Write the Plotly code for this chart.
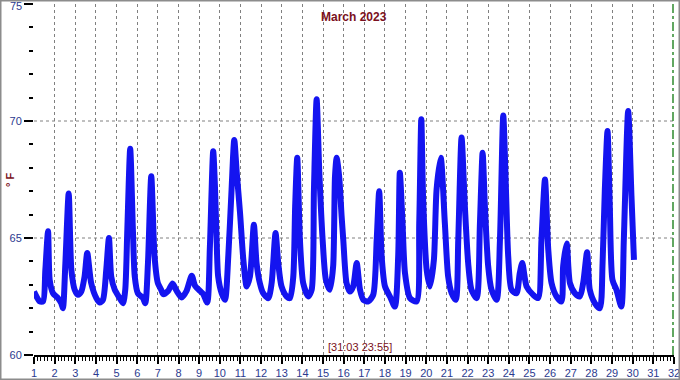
import plotly.graph_objects as go

# Time in days (1.0 = 1 March 00:00) and indoor temperature (°F)
days = [
    1.00, 1.28, 1.44, 1.55, 1.68, 1.76, 1.92, 2.16, 2.32, 2.40, 2.52, 2.68, 2.81, 2.97,
    3.13, 3.29, 3.45, 3.58, 3.77, 4.02, 4.18, 4.34, 4.50, 4.63, 4.74, 4.91, 5.15, 5.31,
    5.42, 5.52, 5.66, 5.79, 5.88, 6.03, 6.28, 6.39, 6.52, 6.68, 6.84, 7.00, 7.16, 7.26,
    7.50, 7.71, 7.91, 8.15, 8.39, 8.64, 8.80, 9.04, 9.20, 9.39, 9.52, 9.68, 9.77, 9.85,
    9.92, 10.09, 10.25, 10.41, 10.57, 10.70, 10.82, 10.98, 11.14, 11.30, 11.46, 11.65,
    11.78, 11.94, 12.10, 12.35, 12.51, 12.70, 12.83, 12.99, 13.24, 13.40, 13.56, 13.65,
    13.75, 13.88, 14.04, 14.28, 14.45, 14.56, 14.69, 14.82, 14.98, 15.14, 15.33, 15.49,
    15.58, 15.66, 15.78, 15.90, 15.98, 16.14, 16.30, 16.46, 16.63, 16.79, 16.95, 17.19,
    17.43, 17.60, 17.72, 17.84, 18.00, 18.24, 18.48, 18.64, 18.72, 18.85, 18.97, 19.21,
    19.53, 19.66, 19.76, 19.85, 20.02, 20.18, 20.37, 20.50, 20.70, 20.90, 21.06, 21.23,
    21.43, 21.55, 21.71, 21.87, 22.03, 22.19, 22.44, 22.60, 22.73, 22.84, 23.00, 23.16,
    23.41, 23.57, 23.73, 23.86, 23.97, 24.13, 24.37, 24.53, 24.65, 24.86, 25.18, 25.42,
    25.58, 25.75, 25.91, 26.07, 26.31, 26.55, 26.63, 26.80, 26.96, 27.20, 27.44, 27.60,
    27.79, 27.92, 28.17, 28.41, 28.54, 28.65, 28.78, 28.89, 29.02, 29.21, 29.45, 29.57,
    29.78, 29.94, 30.06,
]
temps = [
    62.71, 62.29, 62.29, 63.64, 65.29, 63.21, 62.64, 62.43, 62.21, 62.00, 63.93, 66.90, 63.64, 62.79,
    62.57, 62.71, 63.36, 64.36, 63.07, 62.43, 62.24, 62.36, 63.64, 65.00, 63.36, 62.79, 62.43, 62.21,
    62.79, 65.36, 68.81, 65.36, 63.36, 62.64, 62.43, 62.21, 63.93, 67.64, 64.21, 63.07, 62.79, 62.60,
    62.74, 63.06, 62.74, 62.46, 62.74, 63.39, 62.96, 62.74, 62.60, 62.24, 64.64, 68.71, 67.07, 64.79,
    63.36, 62.64, 62.36, 64.21, 67.07, 69.19, 67.79, 66.07, 64.07, 62.93, 63.36, 65.57,
    63.93, 63.07, 62.64, 62.43, 63.07, 65.21, 63.93, 62.93, 62.50, 62.43, 63.36, 66.36,
    68.43, 64.93, 63.07, 62.50, 62.79, 67.07, 70.93, 67.79, 64.93, 63.21, 62.79, 63.79,
    67.64, 68.43, 67.64, 65.93, 64.93, 63.07, 62.71, 62.93, 63.93, 62.79, 62.36, 62.29,
    62.57, 64.93, 67.00, 64.21, 62.93, 62.50, 62.07, 64.21, 67.79, 65.64, 63.50, 62.43,
    62.29, 65.64, 70.07, 66.64, 63.64, 62.93, 64.07, 67.07, 68.43, 65.64, 63.36, 62.64,
    62.36, 64.93, 69.29, 66.36, 63.93, 62.79, 62.43, 65.64, 68.64, 66.36, 63.79, 62.79,
    62.36, 64.93, 70.24, 67.07, 64.21, 62.79, 62.64, 63.50, 63.93, 62.93, 62.57, 62.43,
    64.93, 67.50, 64.50, 63.07, 62.50, 62.29, 63.79, 64.76, 63.07, 62.64, 62.50, 63.07,
    64.39, 62.79, 62.21, 62.00, 63.93, 67.07, 69.57, 66.36, 63.21, 62.79, 62.07, 64.93,
    70.43, 66.79, 64.07,
]

x_ticks = list(range(1, 33))
y_ticks = [60, 65, 70, 75]
y_minor = [v for v in range(60, 76) if v not in y_ticks]
title_text = "March 2023"
stamp_text = "[31:03 23:55]"
y_title = "° F"

W, H = 680, 380
ML, MR, MT, MB = 34, 6, 4, 25
PW, PH = W - ML - MR, H - MT - MB

navy = "#2b3a8f"
dark_red = "#7a1020"

fig = go.Figure()
fig.add_trace(go.Scatter(
    x=days, y=temps, mode="lines",
    line=dict(color="#1414f0", width=6, shape="spline", smoothing=0.7),
    hoverinfo="skip", showlegend=False,
))

fig.update_layout(
    width=W, height=H,
    margin=dict(l=ML, r=MR, t=MT, b=MB, pad=0, autoexpand=False),
    paper_bgcolor="white", plot_bgcolor="white",
    font=dict(family="Liberation Sans, Arial, sans-serif", size=11, color=navy),
    showlegend=False,
)

fig.update_xaxes(
    range=[1, 32], tickvals=x_ticks, ticktext=[str(v) for v in x_ticks],
    showgrid=True, gridcolor="#808080", gridwidth=1, griddash="3px,3px",
    showline=True, linecolor="black", linewidth=1.5,
    ticks="outside", ticklen=7, tickwidth=1.5, tickcolor="black",
    minor=dict(dtick=1/6, tick0=1, ticks="outside", ticklen=4, tickwidth=1, tickcolor="black", showgrid=False),
    tickfont=dict(color=navy, size=11), ticklabeloverflow="allow", automargin=False,
    zeroline=False, fixedrange=True,
)
# top label (75) is drawn as an annotation nudged down so it is not cut at the edge
fig.update_yaxes(
    range=[y_ticks[0], y_ticks[-1]], tickvals=y_ticks,
    ticktext=[str(v) for v in y_ticks[:-1]] + [""],
    showgrid=False,
    showline=False,
    ticks="outside", ticklen=9, tickwidth=2, tickcolor="black",
    minor=dict(tickvals=y_minor, ticks="outside", ticklen=4, tickwidth=2, tickcolor="black", showgrid=False),
    tickfont=dict(color=navy, size=11), ticklabeloverflow="allow", automargin=False,
    zeroline=False, fixedrange=True,
)
fig.add_annotation(text=str(y_ticks[-1]), xref="paper", yref="y",
                   x=-11 / PW, y=y_ticks[-1], xanchor="right", yanchor="top",
                   yshift=5, showarrow=False, borderpad=0,
                   font=dict(color=navy, size=11))

# horizontal dashed grid lines at inner major ticks
for yv in y_ticks[1:-1]:
    fig.add_shape(type="line", xref="paper", yref="y", x0=0, x1=1, y0=yv, y1=yv,
                  line=dict(color="#808080", width=1, dash="3px,3px"), layer="below")

# green dash-dot marker at right edge
fig.add_shape(type="line", xref="paper", yref="paper", x0=1 - 1 / PW, x1=1 - 1 / PW, y0=0, y1=1,
              line=dict(color="#2e8b2e", width=1.5, dash="dashdot"))

# outer border
fig.add_shape(type="rect", xref="paper", yref="paper",
              x0=-ML / PW + 0.5 / PW, x1=1 + MR / PW - 0.5 / PW,
              y0=-MB / PH + 0.5 / PH, y1=1 + MT / PH - 0.5 / PH,
              line=dict(color="#8c8c8c", width=2))

fig.add_annotation(text="<b>" + title_text + "</b>", xref="paper", yref="paper",
                   x=0.5, y=1 - 13 / PH, xanchor="center", yanchor="middle",
                   showarrow=False, font=dict(color=dark_red, size=12))
fig.add_annotation(text=stamp_text, xref="paper", yref="paper",
                   x=(360 - ML) / PW, y=8 / PH, xanchor="center", yanchor="middle",
                   showarrow=False, font=dict(color=dark_red, size=11))
fig.add_annotation(text="<b>" + y_title + "</b>", xref="paper", yref="paper",
                   x=(10 - ML) / PW, y=(355 - 180) / PH, xanchor="center", yanchor="middle",
                   textangle=-90, showarrow=False, font=dict(color=dark_red, size=11))

fig.write_html("out.html")
